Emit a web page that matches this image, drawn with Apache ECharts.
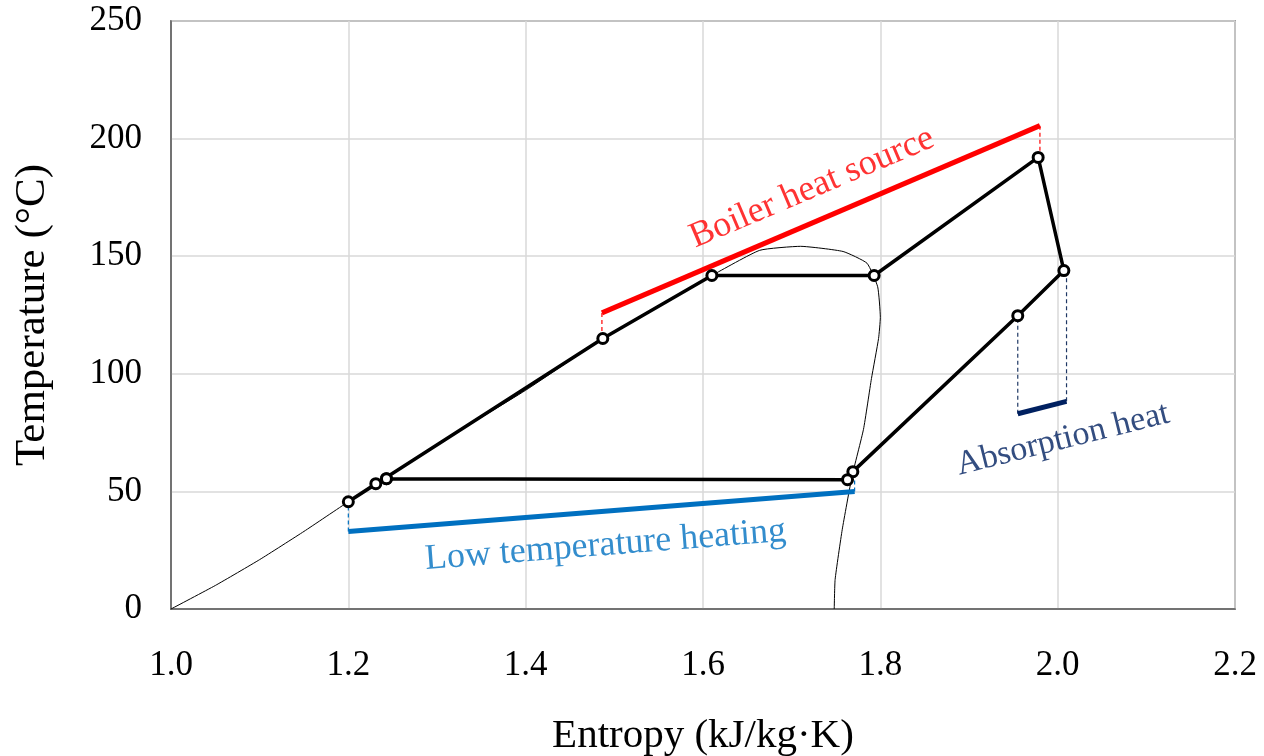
<!DOCTYPE html>
<html>
<head>
<meta charset="utf-8">
<script src="https://cdn.jsdelivr.net/npm/echarts@6/dist/echarts.min.js"></script>
<style>html,body{margin:0;padding:0;background:#fff}#c{width:1264px;height:756px}</style>
</head>
<body>
<div id="c"></div>
<script>
// ---- data ----
const xTicks = [1.0, 1.2, 1.4, 1.6, 1.8, 2.0, 2.2];
const yTicks = [0, 50, 100, 150, 200, 250];
// saturation dome [entropy, temperature]
const domeS = [1.0, 1.05, 1.1, 1.15, 1.2, 1.3, 1.4, 1.487, 1.55, 1.61, 1.664, 1.71, 1.758, 1.785, 1.797, 1.800, 1.798, 1.790, 1.781, 1.768, 1.757, 1.749, 1.748];
const domeT = [0, 10, 21, 33, 45.6, 70, 93, 115, 129, 141.8, 152.5, 154.2, 152, 147, 137, 124, 115, 98, 76.4, 56.3, 33.7, 12.5, 0];
// cycle state points
const cycleS = [1.243, 1.231, 1.2, 1.487, 1.610, 1.793, 1.978, 2.007, 1.955, 1.769, 1.763, 1.243];
const cycleT = [55.4, 53.3, 45.6, 115, 141.8, 141.8, 192, 143.9, 124.7, 58.4, 55.0, 55.4];
// heat source / sink lines
const boilerS = [1.486, 1.980];
const boilerT = [125.9, 205.5];
const boilerDropT = [115, 192];
const heatingS = [1.2, 1.771];
const heatingT = [33, 50];
const heatingTopT = [45.6, 58.4];
const absorbS = [1.955, 2.010];
const absorbT = [83, 88.3];
const absorbTopT = [124.7, 143.9];
// annotation labels
const labelS = [1.723, 1.49, 2.006];
const labelT = [179, 27, 72];
const labelText = ['Boiler heat source', 'Low temperature heating', 'Absorption heat'];

const zip = (a, b) => a.map((v, i) => [v, b[i]]);
const font = 'Liberation Serif, Times New Roman, serif';

const series = [];
series.push({type: 'line', data: zip(domeS, domeT), showSymbol: false, smooth: 0.15,
  lineStyle: {color: '#000', width: 1}, z: 2, silent: true});
// dashed verticals
function vline(s, t1, t2, color) {
  series.push({type: 'line', data: [[s, t1], [s, t2]], showSymbol: false,
    lineStyle: {color: color, width: 1.2, type: [4, 3]}, z: 3, silent: true});
}
boilerS.forEach((s, i) => vline(s, boilerT[i], boilerDropT[i], '#FF0000'));
heatingS.forEach((s, i) => vline(s, heatingT[i], heatingTopT[i], '#0070C0'));
absorbS.forEach((s, i) => vline(s, absorbT[i], absorbTopT[i], '#1F3864'));
series.push({type: 'line', data: zip(boilerS, boilerT), showSymbol: false,
  lineStyle: {color: '#FF0000', width: 5}, z: 4});
series.push({type: 'line', data: zip(heatingS, heatingT), showSymbol: false,
  lineStyle: {color: '#0070C0', width: 5}, z: 4});
series.push({type: 'line', data: zip(absorbS, absorbT), showSymbol: false,
  lineStyle: {color: '#002060', width: 5}, z: 4});
// cycle
series.push({type: 'line', data: zip(cycleS, cycleT), symbol: 'circle', symbolSize: 10,
  itemStyle: {color: '#fff', borderColor: '#000', borderWidth: 3},
  lineStyle: {color: '#000', width: 3.5}, z: 6});
// annotation labels
const lblColors = ['#FF0000', '#0070C0', '#002060'];
const lblRot = [23, 4.5, 14];
const lblSize = [36, 36, 34];
labelText.forEach((t, i) => {
  series.push({type: 'scatter', symbolSize: 0, itemStyle: {color: 'transparent'}, z: 7, silent: true,
    data: [[labelS[i], labelT[i]]],
    label: {show: true, position: 'inside', formatter: t, rotate: lblRot[i],
      color: lblColors[i], fontFamily: font, fontSize: lblSize[i], align: 'center', verticalAlign: 'middle'}});
});

const chart = echarts.init(document.getElementById('c'), null, {renderer: 'canvas'});
chart.setOption({
  animation: false,
  backgroundColor: '#fff',
  grid: {left: 171, top: 21, right: 29, bottom: 147, containLabel: false, outerBoundsMode: 'none',
    show: true, borderColor: '#595959', borderWidth: 1.5, backgroundColor: 'transparent'},
  xAxis: {type: 'value', min: xTicks[0], max: xTicks[xTicks.length - 1], interval: 0.2,
    name: 'Entropy (kJ/kg·K)', nameLocation: 'middle', nameGap: 107,
    nameTextStyle: {fontFamily: font, fontSize: 41, color: '#000'},
    axisLine: {show: true, lineStyle: {color: '#595959', width: 1.5}}, axisTick: {show: false},
    axisLabel: {fontFamily: font, fontSize: 35, color: '#000', margin: 39, formatter: v => v.toFixed(1)},
    splitLine: {show: true, lineStyle: {color: '#D9D9D9', width: 1.5}}},
  yAxis: {type: 'value', min: yTicks[0], max: yTicks[yTicks.length - 1], interval: 50,
    name: 'Temperature (°C)', nameLocation: 'middle', nameGap: 117, nameRotate: 90,
    nameTextStyle: {fontFamily: font, fontSize: 43, color: '#000'},
    axisLine: {show: true, lineStyle: {color: '#595959', width: 1.5}}, axisTick: {show: false},
    axisLabel: {fontFamily: font, fontSize: 35, color: '#000', margin: 29},
    splitLine: {show: true, lineStyle: {color: '#D9D9D9', width: 1.5}}},
  series: series
});
</script>
</body>
</html>
